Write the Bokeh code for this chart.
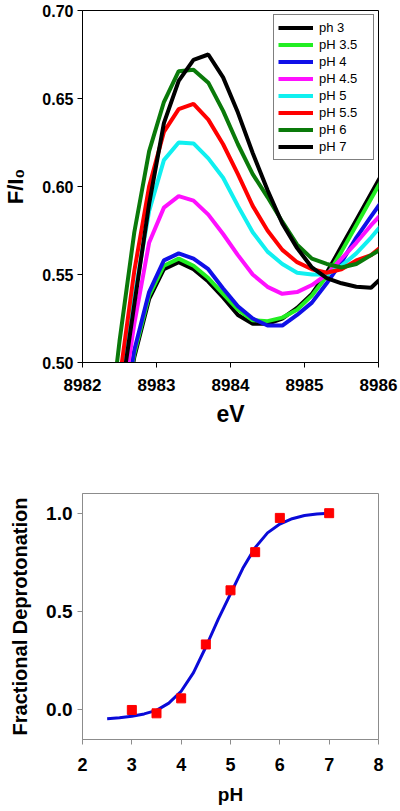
from bokeh.plotting import figure
from bokeh.layouts import column
from bokeh.models import FixedTicker, PrintfTickFormatter, Range1d
from bokeh.embed import file_html
from bokeh.resources import INLINE

# ---------------- data: top panel (F/I0 vs eV) ----------------
energy = [8982.3, 8982.5, 8982.7, 8982.9, 8983.1, 8983.3, 8983.5, 8983.7, 8983.9, 8984.1, 8984.3,
          8984.5, 8984.7, 8984.9, 8985.1, 8985.3, 8985.5, 8985.7, 8985.9, 8986.1]
ph3 = [0.400, 0.455, 0.503, 0.536, 0.553, 0.557, 0.553, 0.546, 0.537, 0.527, 0.522,
       0.522, 0.525, 0.531, 0.539, 0.551, 0.566, 0.581, 0.596, 0.611]
ph35 = [0.400, 0.457, 0.505, 0.538, 0.555, 0.559, 0.555, 0.548, 0.539, 0.530, 0.524,
        0.5235, 0.5255, 0.530, 0.538, 0.549, 0.563, 0.578, 0.593, 0.608]
ph4 = [0.400, 0.455, 0.507, 0.540, 0.558, 0.562, 0.559, 0.553, 0.542, 0.532, 0.525,
       0.521, 0.521, 0.527, 0.534, 0.545, 0.557, 0.571, 0.583, 0.595]
ph45 = [0.400, 0.465, 0.522, 0.568, 0.588, 0.5945, 0.592, 0.584, 0.573, 0.561, 0.550,
        0.543, 0.539, 0.540, 0.544, 0.550, 0.559, 0.568, 0.578, 0.587]
ph5 = [0.420, 0.485, 0.537, 0.586, 0.615, 0.625, 0.6245, 0.616, 0.605, 0.589, 0.574,
       0.563, 0.556, 0.551, 0.550, 0.550, 0.555, 0.562, 0.571, 0.581]
ph55 = [0.430, 0.490, 0.552, 0.600, 0.631, 0.644, 0.647, 0.638, 0.624, 0.607, 0.589,
        0.575, 0.564, 0.557, 0.553, 0.551, 0.553, 0.558, 0.561, 0.568]
ph6 = [0.440, 0.512, 0.574, 0.620, 0.648, 0.6655, 0.6663, 0.659, 0.643, 0.624, 0.607,
       0.594, 0.580, 0.567, 0.559, 0.556, 0.554, 0.556, 0.561, 0.566]
ph7 = [0.420, 0.475, 0.533, 0.590, 0.636, 0.660, 0.672, 0.675, 0.662, 0.642, 0.619,
       0.598, 0.579, 0.565, 0.554, 0.548, 0.545, 0.543, 0.5425, 0.5505]

series_labels = ["ph 3", "pH 3.5", "pH 4", "pH 4.5", "pH 5", "pH 5.5", "pH 6", "pH 7"]
series_values = [ph3, ph35, ph4, ph45, ph5, ph55, ph6, ph7]
series_colors = ["#000000", "#22ee22", "#1010e8", "#ff10ff", "#10f0f0", "#ff0000", "#0a7a0a", "#000000"]

x_ticks_top = [8982, 8983, 8984, 8985, 8986]
y_ticks_top = [0.50, 0.55, 0.60, 0.65, 0.70]

# ---------------- data: bottom panel (fractional deprotonation) ----------------
ph_points = [3.0, 3.5, 4.0, 4.5, 5.0, 5.5, 6.0, 7.0]
frac_points = [0.0, -0.017, 0.059, 0.333, 0.608, 0.802, 0.976, 1.0]
fit_ph = [2.5, 2.75, 3.0, 3.25, 3.5, 3.75, 4.0, 4.25, 4.5, 4.75, 5.0,
          5.25, 5.5, 5.75, 6.0, 6.25, 6.5, 6.75, 7.0]
fit_frac = [-0.044, -0.040, -0.032, -0.020, -0.002, 0.035, 0.095, 0.190, 0.320, 0.460, 0.590,
            0.720, 0.825, 0.900, 0.945, 0.972, 0.988, 0.996, 1.0]
x_ticks_bot = [2, 3, 4, 5, 6, 7, 8]
y_ticks_bot = [0.0, 0.5, 1.0]

FONT = "Liberation Sans"


def style_axis(ax, line_color, label_size, title_size):
    ax.axis_line_color = line_color
    ax.major_tick_line_color = line_color
    ax.major_tick_out = 5
    ax.major_tick_in = 0
    ax.minor_tick_line_color = None
    ax.major_label_text_font = FONT
    ax.major_label_text_font_style = "bold"
    ax.major_label_text_font_size = label_size
    ax.major_label_text_color = "black"
    ax.axis_label_text_font = FONT
    ax.axis_label_text_font_style = "bold"
    ax.axis_label_text_font_size = title_size
    ax.axis_label_text_color = "black"


# ---------------- top figure ----------------
p1 = figure(width=400, height=430, x_range=Range1d(8982, 8986), y_range=Range1d(0.5, 0.7),
            output_backend="svg", toolbar_location=None,
            min_border_left=78, min_border_right=22, min_border_top=10, min_border_bottom=68)
p1.grid.visible = False
p1.outline_line_color = "black"
p1.outline_line_width = 1

for lab, vals, col in zip(series_labels, series_values, series_colors):
    p1.line(energy, vals, line_color=col, line_width=4, legend_label=lab)

p1.xaxis.ticker = FixedTicker(ticks=x_ticks_top)
p1.xaxis.formatter = PrintfTickFormatter(format="%d")
p1.yaxis.ticker = FixedTicker(ticks=y_ticks_top)
p1.yaxis.formatter = PrintfTickFormatter(format="%.2f")
p1.xaxis.axis_label = "eV"
p1.yaxis.axis_label = "F/I\u2080"
style_axis(p1.xaxis[0], "black", "17px", "23px")
style_axis(p1.yaxis[0], "black", "16px", "22px")
p1.xaxis.major_label_standoff = 11
p1.xaxis.axis_label_standoff = 7
p1.yaxis.major_label_standoff = 4
p1.yaxis.axis_label_standoff = 11

lg = p1.legend[0]
lg.location = "top_right"
lg.margin = 4
lg.padding = 4
lg.spacing = 0
lg.border_line_color = "black"
lg.border_line_width = 1
lg.background_fill_alpha = 1
lg.glyph_width = 35
lg.glyph_height = 17
lg.label_height = 17
lg.label_width = 50
lg.label_standoff = 6
lg.label_text_font = FONT
lg.label_text_font_size = "13px"
lg.label_text_color = "black"

# ---------------- bottom figure ----------------
p2 = figure(width=400, height=381, x_range=Range1d(2, 8), y_range=Range1d(-0.15, 1.1),
            output_backend="svg", toolbar_location=None,
            min_border_left=78, min_border_right=13, min_border_top=63, min_border_bottom=72)
p2.grid.visible = False
p2.outline_line_color = "#8c8c8c"
p2.outline_line_width = 1

p2.line(fit_ph, fit_frac, line_color="#0a0ad8", line_width=3)
p2.scatter(ph_points, frac_points, marker="square", size=9, fill_color="#ff0000", line_color="#ff0000")

p2.xaxis.ticker = FixedTicker(ticks=x_ticks_bot)
p2.xaxis.formatter = PrintfTickFormatter(format="%d")
p2.yaxis.ticker = FixedTicker(ticks=y_ticks_bot)
p2.yaxis.formatter = PrintfTickFormatter(format="%.1f")
p2.xaxis.axis_label = "pH"
p2.yaxis.axis_label = "Fractional Deprotonation"
style_axis(p2.xaxis[0], "#8c8c8c", "18px", "19px")
style_axis(p2.yaxis[0], "#8c8c8c", "19px", "20px")
p2.xaxis.major_label_standoff = 13
p2.xaxis.axis_label_standoff = 10
p2.yaxis.major_label_standoff = 5
p2.yaxis.axis_label_standoff = 12

layout = column(p1, p2)
open("out.html", "w").write(file_html(layout, INLINE))
